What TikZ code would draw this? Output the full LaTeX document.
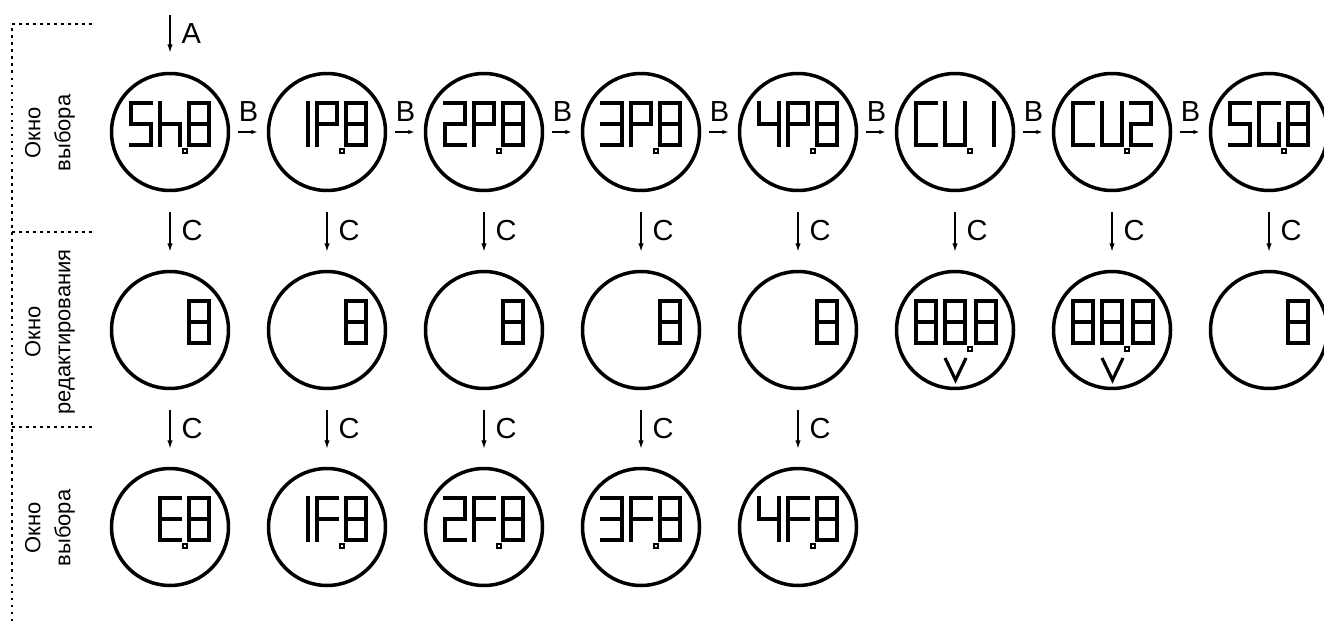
\documentclass[tikz,border=0pt]{standalone}
\usepackage{fontspec}
\setmainfont{Liberation Sans}
\usetikzlibrary{arrows.meta}
\tikzset{
  disp/.style={circle,draw,line width=2pt,minimum size=2.34cm,inner sep=0pt},
  segline/.style={line width=1.8pt,line cap=rect,line join=miter},
  dotsq/.style={line width=0.6pt},
  varr/.style={-{Latex[length=0.17cm,width=0.11cm]},line width=0.8pt},
  harr/.style={-{Latex[length=0.13cm,width=0.09cm]},line width=0.8pt,shorten <=0.16cm,shorten >=0.18cm},
  vgap/.style={shorten <=0.4cm,shorten >=0.36cm},
  lbl/.style={font=\fontsize{16.5}{19}\selectfont,inner sep=0pt},
  side/.style={rotate=90,align=center,font=\fontsize{12.5}{17}\selectfont},
  frame/.style={line width=0.9pt,dash pattern=on 1.5pt off 2.5pt}
}
% seven segments of one digit, origin = left edge, circle centre height
\newcommand{\sgA}{\draw[segline] (0,-29) -- (20,-29);}
\newcommand{\sgB}{\draw[segline] (20,-29) -- (20,-8);}
\newcommand{\sgC}{\draw[segline] (20,-8) -- (20,13);}
\newcommand{\sgD}{\draw[segline] (0,13) -- (20,13);}
\newcommand{\sgE}{\draw[segline] (0,-8) -- (0,13);}
\newcommand{\sgF}{\draw[segline] (0,-29) -- (0,-8);}
\newcommand{\sgG}{\draw[segline] (0,-8) -- (20,-8);}
\newcommand{\dig}[3]{\begin{scope}[shift={(#1.center)},shift={(#2,0)}]
  \foreach \s in {#3}{\csname sg\s\endcsname}\end{scope}}
\newcommand{\dpoint}[1]{\begin{scope}[shift={(#1.center)}]
  \draw[dotsq] (13,17) rectangle (17,21);\end{scope}}
\newcommand{\dvee}[1]{\begin{scope}[shift={(#1.center)}]
  \draw[segline,line cap=butt] (-10,28) -- (0.5,50) -- (11,28);\end{scope}}

\begin{document}
\begin{tikzpicture}[x=0.02cm,y=-0.02cm]
  \path[use as bounding box,clip] (0,0) rectangle (1324,621);
  % left frame
  \draw[frame] (92,24) -- (12,24) -- (12,621);
  \draw[frame] (12,232) -- (92,232);
  \draw[frame] (12,427) -- (92,427);
  \node[side] (t1) at (50,133) {Окно\\выбора};
  \node[side] (t2) at (50,332) {Окно\\редактирования};
  \node[side] (t3) at (50,528) {Окно\\выбора};
  % selection window
  \node[disp] (s1) at (170,132) {};
  \node[disp] (s2) at (327,132) {};
  \node[disp] (s3) at (484,132) {};
  \node[disp] (s4) at (641,132) {};
  \node[disp] (s5) at (798,132) {};
  \node[disp] (s6) at (955,132) {};
  \node[disp] (s7) at (1112,132) {};
  \node[disp] (s8) at (1269,132) {};
  % edit window
  \node[disp] (e1) at (170,330) {};
  \node[disp] (e2) at (327,330) {};
  \node[disp] (e3) at (484,330) {};
  \node[disp] (e4) at (641,330) {};
  \node[disp] (e5) at (798,330) {};
  \node[disp] (e6) at (955,330) {};
  \node[disp] (e7) at (1112,330) {};
  \node[disp] (e8) at (1269,330) {};
  % second selection window
  \node[disp] (f1) at (170,527) {};
  \node[disp] (f2) at (327,527) {};
  \node[disp] (f3) at (484,527) {};
  \node[disp] (f4) at (641,527) {};
  \node[disp] (f5) at (798,527) {};
  % display contents
  \dig{s1}{-39}{A,F,G,C,D}\dig{s1}{-10}{F,E,G,C}\dig{s1}{19}{A,B,C,D,E,F,G}\dpoint{s1}
  \dig{s2}{-39}{B,C}\dig{s2}{-10}{A,B,F,G,E}\dig{s2}{19}{A,B,C,D,E,F,G}\dpoint{s2}
  \dig{s3}{-39}{A,B,G,E,D}\dig{s3}{-10}{A,B,F,G,E}\dig{s3}{19}{A,B,C,D,E,F,G}\dpoint{s3}
  \dig{s4}{-39}{A,B,G,C,D}\dig{s4}{-10}{A,B,F,G,E}\dig{s4}{19}{A,B,C,D,E,F,G}\dpoint{s4}
  \dig{s5}{-39}{F,G,B,C}\dig{s5}{-10}{A,B,F,G,E}\dig{s5}{19}{A,B,C,D,E,F,G}\dpoint{s5}
  \dig{s6}{-39}{A,F,E,D}\dig{s6}{-10}{F,E,D,C,B}\dig{s6}{19}{B,C}\dpoint{s6}
  \dig{s7}{-39}{A,F,E,D}\dig{s7}{-10}{F,E,D,C,B}\dig{s7}{19}{A,B,G,E,D}\dpoint{s7}
  \dig{s8}{-39}{A,F,G,C,D}\dig{s8}{-10}{A,F,E,D,C}\dig{s8}{19}{A,B,C,D,E,F,G}\dpoint{s8}
  \dig{e1}{19}{A,B,C,D,E,F,G}
  \dig{e2}{19}{A,B,C,D,E,F,G}
  \dig{e3}{19}{A,B,C,D,E,F,G}
  \dig{e4}{19}{A,B,C,D,E,F,G}
  \dig{e5}{19}{A,B,C,D,E,F,G}
  \dig{e6}{-39}{A,B,C,D,E,F,G}\dig{e6}{-10}{A,B,C,D,E,F,G}\dig{e6}{21}{A,B,C,D,E,F,G}\dpoint{e6}\dvee{e6}
  \dig{e7}{-39}{A,B,C,D,E,F,G}\dig{e7}{-10}{A,B,C,D,E,F,G}\dig{e7}{21}{A,B,C,D,E,F,G}\dpoint{e7}\dvee{e7}
  \dig{e8}{19}{A,B,C,D,E,F,G}
  \dig{f1}{-10}{A,F,G,E,D}\dig{f1}{19}{A,B,C,D,E,F,G}\dpoint{f1}
  \dig{f2}{-39}{B,C}\dig{f2}{-10}{A,F,G,E}\dig{f2}{19}{A,B,C,D,E,F,G}\dpoint{f2}
  \dig{f3}{-39}{A,B,G,E,D}\dig{f3}{-10}{A,F,G,E}\dig{f3}{19}{A,B,C,D,E,F,G}\dpoint{f3}
  \dig{f4}{-39}{A,B,G,C,D}\dig{f4}{-10}{A,F,G,E}\dig{f4}{19}{A,B,C,D,E,F,G}\dpoint{f4}
  \dig{f5}{-39}{F,G,B,C}\dig{f5}{-10}{A,F,G,E}\dig{f5}{19}{A,B,C,D,E,F,G}\dpoint{f5}
  % key A
  \coordinate (a0) at (170,15);
  \draw[varr,shorten >=0.38cm] (a0) -- node[lbl,pos=0.33,right=0.22cm]{A} (s1);
  % key B
  \draw[harr] (s1) -- node[lbl,above=0.2cm]{B} (s2);
  \draw[harr] (s2) -- node[lbl,above=0.2cm]{B} (s3);
  \draw[harr] (s3) -- node[lbl,above=0.2cm]{B} (s4);
  \draw[harr] (s4) -- node[lbl,above=0.2cm]{B} (s5);
  \draw[harr] (s5) -- node[lbl,above=0.2cm]{B} (s6);
  \draw[harr] (s6) -- node[lbl,above=0.2cm]{B} (s7);
  \draw[harr] (s7) -- node[lbl,above=0.2cm]{B} (s8);
  % key C
  \draw[varr,vgap] (s1) -- node[lbl,right=0.22cm]{C} (e1);
  \draw[varr,vgap] (s2) -- node[lbl,right=0.22cm]{C} (e2);
  \draw[varr,vgap] (s3) -- node[lbl,right=0.22cm]{C} (e3);
  \draw[varr,vgap] (s4) -- node[lbl,right=0.22cm]{C} (e4);
  \draw[varr,vgap] (s5) -- node[lbl,right=0.22cm]{C} (e5);
  \draw[varr,vgap] (s6) -- node[lbl,right=0.22cm]{C} (e6);
  \draw[varr,vgap] (s7) -- node[lbl,right=0.22cm]{C} (e7);
  \draw[varr,vgap] (s8) -- node[lbl,right=0.22cm]{C} (e8);
  \draw[varr,vgap] (e1) -- node[lbl,right=0.22cm]{C} (f1);
  \draw[varr,vgap] (e2) -- node[lbl,right=0.22cm]{C} (f2);
  \draw[varr,vgap] (e3) -- node[lbl,right=0.22cm]{C} (f3);
  \draw[varr,vgap] (e4) -- node[lbl,right=0.22cm]{C} (f4);
  \draw[varr,vgap] (e5) -- node[lbl,right=0.22cm]{C} (f5);
\end{tikzpicture}
\end{document}
